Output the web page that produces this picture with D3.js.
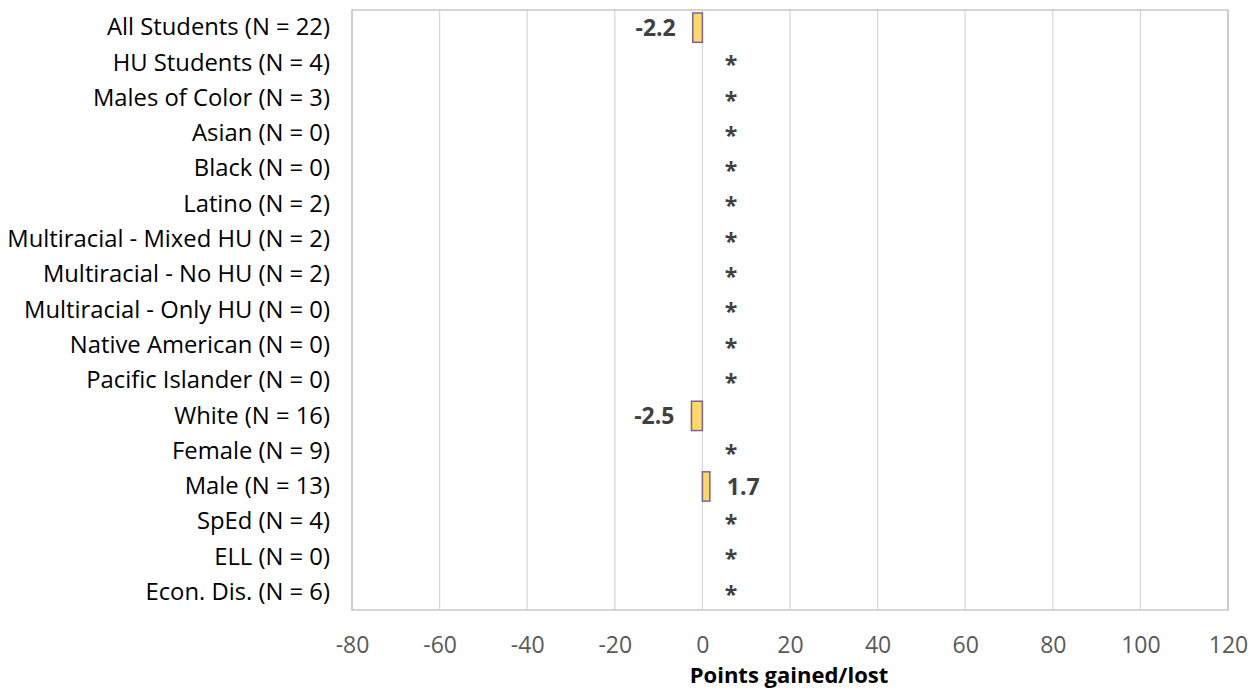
<!DOCTYPE html>
<html><head><meta charset="utf-8">
<script src="https://cdn.jsdelivr.net/npm/d3@7"></script>
<style>body{margin:0;background:#fff;} text{font-family:"Open Sans",sans-serif;}</style>
</head><body>
<svg id="c" width="1260" height="694"></svg>
<script>
const categories = ["All Students (N = 22)","HU Students (N = 4)","Males of Color (N = 3)","Asian (N = 0)","Black (N = 0)","Latino (N = 2)","Multiracial - Mixed HU (N = 2)","Multiracial - No HU (N = 2)","Multiracial - Only HU (N = 0)","Native American (N = 0)","Pacific Islander (N = 0)","White (N = 16)","Female (N = 9)","Male (N = 13)","SpEd (N = 4)","ELL (N = 0)","Econ. Dis. (N = 6)"];
const values = [-2.2,null,null,null,null,null,null,null,null,null,null,-2.5,null,1.7,null,null,null];
const xTicks = [-80,-60,-40,-20,0,20,40,60,80,100,120];
const xTitle = "Points gained/lost";

const svg = d3.select("#c");
const L = 352, R = 1228, T = 10, B = 610;
const x = d3.scaleLinear().domain([-80,120]).range([L,R]);
const y = d3.scaleBand().domain(categories).range([T,B]).paddingInner(0.17).paddingOuter(0.085);

svg.append("g").selectAll("line").data(xTicks).join("line")
  .attr("x1",d=>x(d)).attr("x2",d=>x(d)).attr("y1",T).attr("y2",B)
  .attr("stroke","#d9d9d9").attr("stroke-width",1.3);
svg.append("rect").attr("x",L).attr("y",T).attr("width",R-L).attr("height",B-T)
  .attr("fill","none").attr("stroke","#bfbfbf").attr("stroke-width",1.3);

const xa = svg.append("g").attr("transform",`translate(0,${B})`)
  .call(d3.axisBottom(x).tickValues(xTicks).tickSize(0).tickPadding(27).tickFormat(d=>String(d)));
xa.select(".domain").remove();
xa.selectAll("text").attr("font-size",23).attr("fill","#595959").style("font-family","'Open Sans', sans-serif");

const ya = svg.append("g").attr("transform",`translate(${L},0)`)
  .call(d3.axisLeft(y).tickSize(0).tickPadding(22));
ya.select(".domain").remove();
ya.selectAll("text").attr("font-size",23.8).attr("fill","#000").style("font-family","'Open Sans', sans-serif");

const data = categories.map((c,i)=>({c,v:values[i]}));
svg.append("g").selectAll("rect").data(data.filter(d=>d.v!==null)).join("rect")
  .attr("x",d=>x(Math.min(0,d.v))).attr("width",d=>Math.abs(x(d.v)-x(0)))
  .attr("y",d=>y(d.c)).attr("height",y.bandwidth())
  .attr("fill","#FFD966").attr("stroke","#7A6299").attr("stroke-width",1.5);

svg.append("g").selectAll("text").data(data).join("text")
  .attr("x",d=> d.v===null ? x(0)+28.5 : (d.v<0 ? x(d.v)-17 : x(d.v)+17))
  .attr("y",d=>y(d.c)+y.bandwidth()/2)
  .attr("dy", d=> d.v===null ? "0.45em" : "0.35em")
  .attr("text-anchor",d=> d.v===null ? "middle" : (d.v<0?"end":"start"))
  .attr("font-size",23).attr("font-weight","bold").attr("fill","#404040")
  .text(d=> d.v===null ? "*" : d.v.toFixed(1));

svg.append("text").attr("x",789).attr("y",683).attr("text-anchor","middle")
  .attr("font-size",22).attr("font-weight","bold").attr("fill","#000").text(xTitle);
</script>
</body></html>
